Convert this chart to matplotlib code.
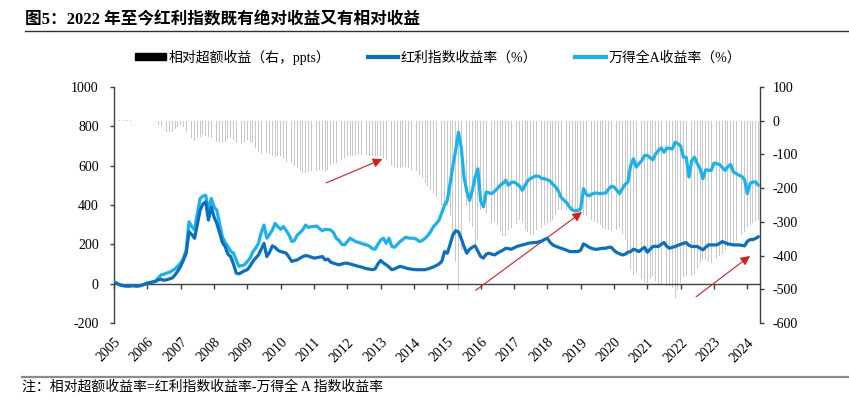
import numpy as np
import matplotlib
matplotlib.use("Agg")
import matplotlib.pyplot as plt
from matplotlib.lines import Line2D
from matplotlib.patches import Patch

plt.rcParams['font.family'] = ['Liberation Serif', 'Noto Sans CJK SC']
plt.rcParams['axes.unicode_minus'] = False

start_year = 2005
years = list(range(2005, 2025))

# 万得全A收益率（%），monthly
wind_a = [
    8, 2, -6, -10, -12, -13, -12, -10, -13, -12, -8, -3,            # 2005
    3, 5, 10, 14, 30, 45, 48, 54, 58, 67, 75, 90,                   # 2006
    104, 130, 172, 315, 290, 273, 357, 433, 445, 450, 374, 433,     # 2007
    390, 374, 306, 239, 210, 189, 165, 155, 120, 88, 92, 96,        # 2008
    113, 130, 163, 180, 205, 260, 298, 231, 250, 273, 306, 290,     # 2009
    276, 290, 270, 248, 214, 220, 248, 260, 275, 298, 286, 290,     # 2010
    290, 293, 280, 269, 276, 275, 273, 260, 231, 220, 200, 197,     # 2011
    214, 231, 222, 214, 210, 205, 200, 197, 190, 178, 175, 200,     # 2012
    222, 231, 205, 231, 190, 185, 200, 214, 225, 236, 232, 231,     # 2013
    231, 225, 214, 220, 231, 245, 265, 290, 305, 323, 360, 399,     # 2014
    424, 509, 600, 677, 770, 694, 542, 470, 424, 475, 542, 584,     # 2015
    420, 391, 466, 462, 458, 470, 483, 500, 510, 525, 500, 515,     # 2016
    517, 508, 495, 475, 500, 525, 535, 542, 548, 545, 535, 534,     # 2017
    528, 522, 505, 492, 470, 438, 425, 411, 390, 374, 370, 372,     # 2018
    380, 483, 455, 446, 455, 461, 460, 458, 460, 461, 480, 495,     # 2019
    492, 475, 458, 483, 505, 517, 601, 635, 593, 610, 626, 652,     # 2020
    652, 640, 630, 660, 677, 690, 668, 690, 688, 685, 719, 712,     # 2021
    700, 643, 643, 542, 626, 643, 610, 584, 534, 579, 577, 576,     # 2022
    613, 610, 606, 590, 576, 595, 606, 568, 560, 551, 545, 530,     # 2023
    458, 509, 517, 517, 500,                                        # 2024
]

# 红利指数收益率（%），monthly
dividend = [
    8, 2, -5, -9, -11, -12, -11, -10, -12, -11, -8, -3,
    3, 5, 8, 12, 20, 22, 17, 20, 25, 29, 45, 65,
    88, 120, 155, 264, 250, 231, 300, 374, 405, 416, 323, 390,
    340, 306, 260, 210, 189, 150, 138, 100, 54, 50, 58, 66,
    71, 90, 113, 130, 146, 175, 205, 138, 160, 192, 185, 170,
    163, 160, 155, 135, 113, 118, 121, 130, 138, 143, 140, 135,
    130, 132, 135, 138, 121, 125, 110, 104, 100, 96, 100, 104,
    104, 100, 96, 92, 88, 85, 80, 76, 74, 71, 75, 100,
    118, 105, 96, 85, 71, 75, 82, 88, 84, 80, 76, 74,
    72, 71, 71, 71, 71, 75, 80, 85, 92, 100, 113, 163,
    155, 200, 248, 269, 264, 230, 189, 155, 175, 185, 192, 165,
    138, 130, 150, 155, 150, 146, 155, 163, 170, 180, 178, 175,
    182, 189, 193, 197, 200, 205, 207, 209, 209, 213, 217, 225,
    231, 210, 197, 190, 185, 180, 175, 170, 163, 163, 163, 163,
    170, 202, 195, 185, 180, 175, 175, 178, 180, 180, 185, 185,
    170, 158, 152, 146, 150, 160, 163, 175, 170, 163, 175, 185,
    160, 175, 189, 190, 189, 200, 209, 190, 180, 185, 189, 195,
    200, 205, 209, 195, 189, 189, 189, 180, 172, 185, 197, 197,
    197, 197, 205, 214, 208, 202, 200, 197, 197, 197, 195, 192,
    215, 224, 224, 230, 239,
]

# 相对超额收益（右，ppts），monthly
excess = [
    0, 0, 2, 3, 3, 2, 1, 0, 0, -1, 0, 0,
    0, 0, -2, -5, -12, -20, -28, -32, -33, -32, -25, -18,
    -13, -20, -37, -45, -52, -59, -47, -47, -42, -45, -47, -50,
    -55, -62, -67, -67, -62, -55, -52, -57, -65, -77, -70, -62,
    -57, -62, -67, -80, -92, -98, -102, -97, -100, -106, -108, -106,
    -106, -112, -121, -124, -126, -133, -141, -148, -154, -154, -151, -150,
    -148, -148, -147, -146, -151, -145, -131, -128, -126, -122, -116, -110,
    -106, -106, -106, -104, -102, -102, -102, -102, -104, -106, -106, -106,
    -106, -110, -116, -122, -131, -136, -141, -141, -138, -136, -140, -146,
    -146, -150, -161, -170, -185, -195, -205, -215, -225, -240, -254, -254,
    -254, -284, -343, -420, -501, -383, -294, -254, -300, -314, -383, -353,
    -264, -235, -274, -294, -304, -299, -309, -328, -343, -343, -324, -318,
    -314, -305, -294, -300, -324, -330, -338, -338, -324, -320, -318, -310,
    -304, -300, -294, -280, -264, -264, -264, -264, -264, -264, -268, -274,
    -274, -280, -284, -290, -294, -300, -304, -310, -318, -320, -325, -328,
    -328, -325, -318, -335, -353, -400, -442, -457, -451, -460, -470, -481,
    -481, -470, -461, -475, -486, -486, -486, -490, -491, -495, -525, -501,
    -480, -465, -461, -440, -461, -455, -440, -422, -412, -412, -418, -422,
    -420, -410, -402, -395, -383, -375, -370, -363, -358, -353, -340, -330,
    -314, -310, -304, -298, -294,
]

left_ticks = [-200, 0, 200, 400, 600, 800, 1000]
right_ticks = [-600, -500, -400, -300, -200, -100, 0, 100]

title = "图5：2022 年至今红利指数既有绝对收益又有相对收益"
legend_labels = ["相对超额收益（右，ppts）", "红利指数收益率（%）", "万得全A收益率（%）"]
note = "注：相对超额收益率=红利指数收益率-万得全 A 指数收益率"

W, H = 849, 398
fig = plt.figure(figsize=(W / 100, H / 100), dpi=100)
ax = fig.add_axes([114 / W, 1 - 323 / H, (760 - 114) / W, (323 - 87) / H])
ax2 = ax.twinx()

x = start_year + np.arange(len(wind_a)) / 12.0

c_dark = '#0a6fbf'
c_light = '#19b2ec'
c_bar = '#c8c8c8'
c_axis = '#404040'

ax2.bar(x, excess, width=0.36 / 12, color=c_bar, linewidth=0, align='center')
ax.plot(x, wind_a, color=c_light, lw=2.3, solid_capstyle='round', zorder=3)
ax.plot(x, dividend, color=c_dark, lw=2.3, solid_capstyle='round', zorder=4)

ax.set_zorder(ax2.get_zorder() + 1)
ax.patch.set_visible(False)

ax.set_xlim(2005, 2024.38)
ax.set_ylim(-200, 1000)
ax2.set_ylim(-600, 100)

for s in ['top', 'right']:
    ax.spines[s].set_visible(False)
for s in ['top', 'left', 'bottom']:
    ax2.spines[s].set_visible(False)
ax.spines['bottom'].set_position(('data', 0))
for s in ['left', 'bottom']:
    ax.spines[s].set_color(c_axis)
    ax.spines[s].set_linewidth(1.0)
ax2.spines['right'].set_color(c_axis)
ax2.spines['right'].set_linewidth(1.0)

ax.tick_params(axis='y', direction='out', length=3, width=1, color=c_axis, pad=8, labelsize=10)
ax.tick_params(axis='x', direction='out', length=3.5, width=1, color=c_axis, pad=34,
               labelsize=10, labelrotation=45)
ax2.tick_params(axis='y', direction='out', length=3, width=1, color=c_axis, pad=6, labelsize=10)

ax.set_yticks(left_ticks)
ax.set_yticklabels([str(v) for v in left_ticks])
ax2.set_yticks(right_ticks)
ax2.set_yticklabels([str(v) for v in right_ticks])
ax.set_xticks(years)
ax.set_xticklabels([str(y) for y in years])
for lbl in ax.get_xticklabels():
    lbl.set_rotation(45)
    lbl.set_ha('right')
    lbl.set_va('top')
    lbl.set_rotation_mode('anchor')

# red arrows
arrow_kw = dict(arrowstyle='-|>', color='#d81e1e', lw=0.8, mutation_scale=14,
                shrinkA=0, shrinkB=0)
ax.annotate('', xy=(2013.05, 633), xytext=(2011.36, 512), arrowprops=arrow_kw)
ax.annotate('', xy=(2019.04, 364), xytext=(2015.85, -34), arrowprops=arrow_kw)
ax.annotate('', xy=(2024.08, 141), xytext=(2022.46, -67), arrowprops=arrow_kw)

# legend
handles = [Patch(facecolor='black', edgecolor='black'),
           Line2D([0], [0], color=c_dark, lw=3),
           Line2D([0], [0], color=c_light, lw=3)]
fig.legend(handles, legend_labels, loc='center', bbox_to_anchor=(438 / W, 1 - 57 / H),
           ncol=3, frameon=False, fontsize=10, handlelength=2.2, handleheight=0.45,
           handletextpad=0.2, columnspacing=2.7, borderaxespad=0)

# title and rules
fig.text(25 / W, 1 - 20 / H, title, fontsize=12, fontweight='bold', va='center', ha='left')
fig.add_artist(Line2D([25 / W, 1.0], [1 - 31 / H] * 2, color='#303030', lw=1.0))
fig.add_artist(Line2D([22 / W, 1.0], [1 - 377 / H] * 2, color='#8c8c8c', lw=1.6))
fig.text(22 / W, 1 - 387 / H, note, fontsize=10, va='center', ha='left')

fig.savefig('out.png', dpi=100)
